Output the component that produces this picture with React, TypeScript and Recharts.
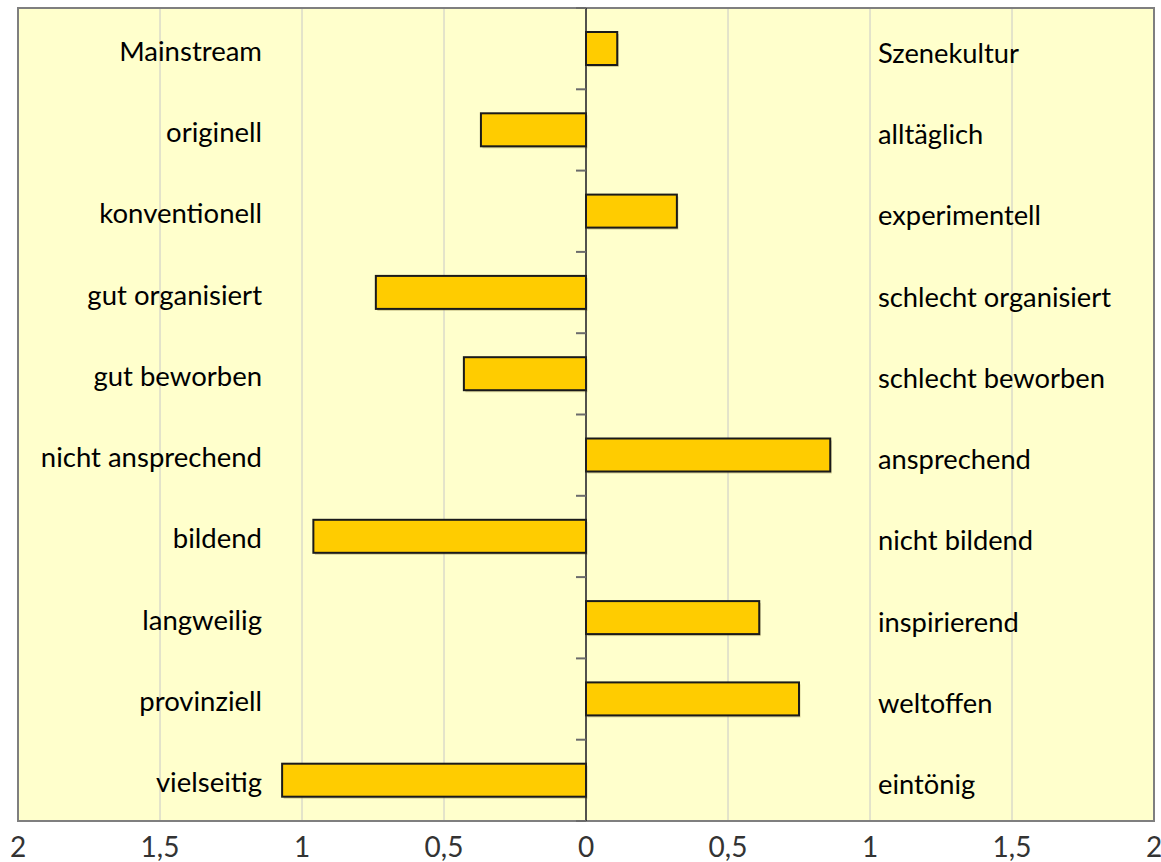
import React from "react";
import { BarChart, Bar, XAxis, YAxis, CartesianGrid, ReferenceLine, ReferenceArea } from "recharts";

const leftLabels = [
    "Mainstream",
    "originell",
    "konventionell",
    "gut organisiert",
    "gut beworben",
    "nicht ansprechend",
    "bildend",
    "langweilig",
    "provinziell",
    "vielseitig",
];
const rightLabels = [
    "Szenekultur",
    "alltäglich",
    "experimentell",
    "schlecht organisiert",
    "schlecht beworben",
    "ansprechend",
    "nicht bildend",
    "inspirierend",
    "weltoffen",
    "eintönig",
];
const values = [0.11, -0.37, 0.32, -0.74, -0.43, 0.86, -0.96, 0.61, 0.75, -1.07];
const xTicks = [-2, -1.5, -1, -0.5, 0, 0.5, 1, 1.5, 2];

const chartData = leftLabels.map((left, i) => ({ left, right: rightLabels[i], value: values[i] }));

const FONT = "Lato, 'Open Sans', sans-serif";
const W = 1161;
const H = 862;
const MARGIN = { top: 8, right: 7, bottom: 0, left: 17 };
const Y_AXIS_W = 1;
const X_AXIS_H = 41;
const PLOT_LEFT = MARGIN.left + Y_AXIS_W;
const PLOT_W = W - PLOT_LEFT - MARGIN.right;
const PLOT_H = H - MARGIN.top - MARGIN.bottom - X_AXIS_H;
const ZERO_X = PLOT_LEFT + PLOT_W / 2;

const XTick = (props: any) => {
    const { x, y, payload } = props;
    const label = String(Math.abs(payload.value)).replace(".", ",");
    return (
        <text x={x} y={y} dy={36} textAnchor="middle" fontFamily={FONT} fontSize={28} fill="#333">
            {label}
        </text>
    );
};

const YTick = (props: any) => {
    const { y, payload } = props;
    const i = leftLabels.indexOf(payload.value);
    const half = payload.offset || PLOT_H / leftLabels.length / 2;
    const marks = [y - half];
    if (i === leftLabels.length - 1) marks.push(y + half);
    return (
        <g>
            {marks.map((m) => (
                <line key={m} x1={ZERO_X - 10} x2={ZERO_X} y1={m} y2={m} stroke="#6b6b6b" strokeWidth={2} />
            ))}
            <text x={262} y={y} dy={12} textAnchor="end" fontFamily={FONT} fontSize={27.5} fill="#000">
                {payload.value}
            </text>
            <text x={878} y={y} dy={14} textAnchor="start" fontFamily={FONT} fontSize={27.3} fill="#000">
                {rightLabels[i]}
            </text>
        </g>
    );
};

const BarShape = (props: any) => {
    const { x, y, width, height } = props;
    const left = Math.min(x, x + width);
    const w = Math.abs(width);
    return (
        <g>
            <rect x={left + 1.5} y={y + 2} width={w} height={height} fill="#8a7a3a" opacity={0.35} />
            <rect x={left} y={y} width={w} height={height} fill="#FFCC00" stroke="#1a1a1a" strokeWidth={2} />
        </g>
    );
};

export default function App() {
    return (
        <div style={{ position: "absolute", left: 0, top: 0 }}>
            <BarChart width={W} height={H} data={chartData} layout="vertical" margin={MARGIN} barSize={33}>
                <CartesianGrid horizontal={false} stroke="#c8c8c8" fill="#FFFFCC" />
                <ReferenceArea x1={-2} x2={2} fill="none" stroke="#7f7f7f" strokeWidth={2} />
                <XAxis
                    type="number"
                    domain={[-2, 2]}
                    ticks={xTicks}
                    interval={0}
                    height={X_AXIS_H}
                    axisLine={false}
                    tickLine={false}
                    tickSize={0}
                    tickMargin={0}
                    tick={<XTick />}
                />
                <YAxis
                    type="category"
                    dataKey="left"
                    width={Y_AXIS_W}
                    interval={0}
                    axisLine={false}
                    tickLine={false}
                    tick={<YTick />}
                />
                <ReferenceLine x={0} stroke="#222" strokeWidth={1.5} />
                <Bar dataKey="value" isAnimationActive={false} shape={<BarShape />} />
            </BarChart>
        </div>
    );
}
